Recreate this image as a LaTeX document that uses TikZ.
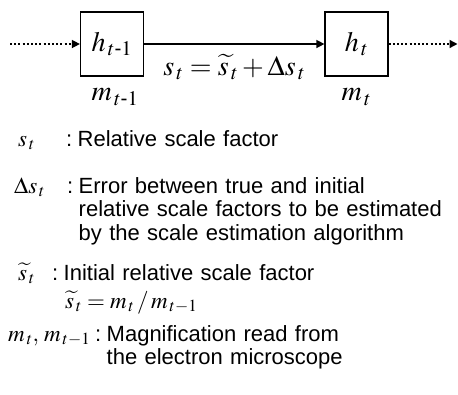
\documentclass[tikz,border=0pt]{standalone}
\usepackage{amsmath}
\usepackage{mathptmx}
\usepackage[no-math]{fontspec}
\setmainfont{Liberation Sans}
\usetikzlibrary{arrows.meta,positioning}

\tikzset{
  frame/.style={draw,line width=1.2pt,minimum width=63pt,minimum height=64pt,inner sep=0pt,
    font=\fontsize{28}{30}\selectfont},
  big/.style={inner sep=0pt,font=\fontsize{28}{30}\selectfont},
  flow/.style={line width=1.4pt,-{Triangle[length=8pt,width=8pt]}},
  dots/.style={flow,dash pattern=on 2pt off 2.2pt},
  sym/.style={anchor=base west,inner sep=0pt,font=\fontsize{23}{25}\selectfont},
  txt/.style={anchor=base west,inner sep=0pt,align=left,text width=385pt}
}

\begin{document}
\begin{tikzpicture}[x=1pt,y=-1pt,font=\fontsize{22}{23.5}\selectfont]
    \useasboundingbox (0,0) rectangle (458,394);
    % chain of images
    \node[frame] (hprev) at (112,44) {$h_{\,t\text{-}1}$};
    \node[frame] (hcur) at (356.5,44) {$h_{\,t}$};
    \coordinate (lstart) at (10,44);
    \coordinate (rend) at (457.5,44);
    \node[big,below=12pt of hprev,xshift=3pt] (mprev) {$m_{\,t\text{-}1}$};
    \node[big,below=12pt of hcur] (mcur) {$m_{\,t}$};
    \draw[dots] (lstart) -- (hprev);
    \draw[flow] (hprev) -- node[big,below=10pt] (rel)
      {$s_{\,t}=\widetilde{s}_{\,t}+\Delta s_{\,t}$} (hcur);
    \draw[dots] (hcur) -- (rend);
    % legend
    \node[sym] (st) at (18,146) {$s_{\,t}$};
    \node[txt,text width=] (stc) at (66,146) {:};
    \node[txt,base right=5pt of stc] (stdesc) {Relative scale factor};
    \node[sym] (ds) at (14,193) {$\Delta s_{\,t}$};
    \node[txt,text width=] (dsc) at (67,193) {:};
    \node[txt,base right=5pt of dsc] (dsdesc)
      {Error between true and initial\\relative scale factors to be estimated\\by the scale estimation algorithm};
    \node[sym] (si) at (18,280) {$\widetilde{s}_{\,t}$};
    \node[txt,text width=] (sic) at (52,280) {:};
    \node[txt,base right=5pt of sic] (sidesc) {Initial relative scale factor};
    \node[sym] (sieq) at (65,308) {$\widetilde{s}_{\,t}=m_{\,t}\,/\,m_{\,t-1}$};
    \node[sym] (mm) at (8,341) {$m_{\,t},\,m_{\,t-1}$};
    \node[txt,text width=] (mmc) at (95,341) {:};
    \node[txt,base right=5pt of mmc] (mmdesc) {Magnification read from\\the electron microscope};
\end{tikzpicture}
\end{document}
